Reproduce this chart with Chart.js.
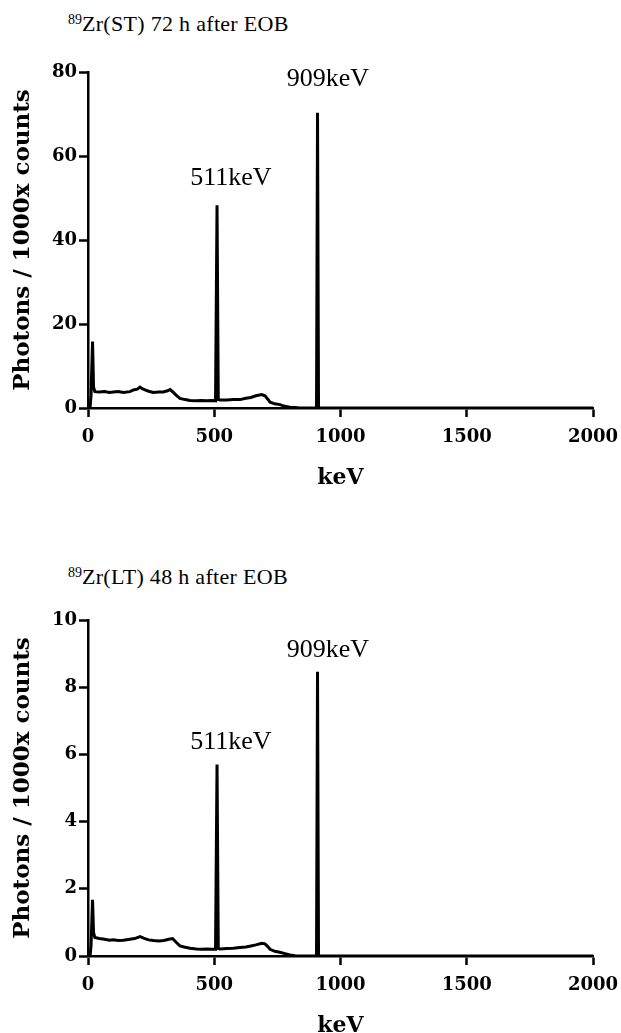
<!DOCTYPE html>
<html>
<head>
<meta charset="utf-8">
<title>89Zr spectra</title>
<script src="https://cdn.jsdelivr.net/npm/chart.js@4.4.0/dist/chart.umd.min.js"></script>
<style>
	body { margin: 0; width: 621px; height: 1033px; overflow: hidden; position: relative; background: #fff; }
	.ttl { position: absolute; left: 68px; font-family: "Liberation Serif", serif; font-size: 22px; letter-spacing: 0.3px; line-height: 24px; color: #000; white-space: nowrap; }
	.ttl sup { font-size: 14px; line-height: 0; vertical-align: 7px; letter-spacing: 0; }
	.box { position: absolute; left: 0; width: 621px; height: 500px; }
</style>
</head>
<body>
	<div class="ttl" style="top:12px"><sup>89</sup>Zr(ST) 72 h after EOB</div>
	<div class="box" style="top:0px"><canvas id="chartST"></canvas></div>

	<div class="ttl" style="top:565px"><sup>89</sup>Zr(LT) 48 h after EOB</div>
	<div class="box" style="top:548px"><canvas id="chartLT"></canvas></div>

	<script type="text/javascript">
		// tick labels
		var xTicks = [0, 500, 1000, 1500, 2000];
		var yTicksST = [0, 20, 40, 60, 80];
		var yTicksLT = [0, 2, 4, 6, 8, 10];

		// spectrum 89Zr(ST), 72 h after EOB (keV / photons per 1000x counts)
		var energyST = [8, 12, 18, 22, 27, 45, 65, 85, 100, 120, 140, 166, 180, 195, 206, 215, 226, 240, 259, 280, 298, 315, 325, 338, 350, 364, 385, 404, 430, 450, 470, 490, 505, 511, 516, 523, 550, 575, 602, 625, 645, 665, 688, 701, 712, 721, 740, 760, 780, 800, 820, 840, 905, 909, 913, 2000];
		var countsST = [0, 3, 15.8, 5, 3.9, 3.8, 3.9, 3.7, 3.8, 3.9, 3.7, 3.9, 4.3, 4.5, 5.0, 4.6, 4.3, 4.0, 3.7, 3.8, 3.8, 4.1, 4.4, 3.7, 3.0, 2.3, 2.0, 1.8, 1.7, 1.8, 1.7, 1.8, 1.7, 48.3, 2.0, 1.9, 1.9, 2.0, 2.0, 2.3, 2.5, 2.9, 3.2, 2.9, 2.1, 1.4, 1.0, 0.8, 0.4, 0.2, 0.1, 0, 0, 70.3, 0, 0];

		// spectrum 89Zr(LT), 48 h after EOB
		var energyLT = [8, 12, 18, 22, 27, 45, 65, 85, 100, 120, 140, 166, 185, 206, 220, 240, 259, 280, 300, 320, 335, 350, 364, 385, 404, 430, 450, 470, 490, 505, 511, 516, 523, 550, 575, 602, 625, 645, 665, 688, 701, 712, 721, 740, 760, 780, 800, 820, 840, 905, 909, 913, 2000];
		var countsLT = [0, 0.3, 1.67, 0.7, 0.55, 0.52, 0.5, 0.47, 0.48, 0.46, 0.47, 0.5, 0.52, 0.58, 0.53, 0.48, 0.46, 0.45, 0.46, 0.5, 0.52, 0.4, 0.3, 0.26, 0.23, 0.21, 0.2, 0.21, 0.2, 0.2, 5.7, 0.22, 0.21, 0.22, 0.23, 0.25, 0.27, 0.3, 0.33, 0.38, 0.36, 0.28, 0.2, 0.14, 0.11, 0.07, 0.03, 0.01, 0, 0, 8.46, 0, 0];

		// peak labels: text, keV, value where the label sits
		var peakText = ['511keV', '909keV'];
		var peakAtST = [[566, 54.8], [950, 78.3]];
		var peakAtLT = [[566, 6.35], [950, 9.1]];

		var tickFont = { family: '"DejaVu Serif", serif', size: 18, weight: 'bold' };
		var titleFont = { family: '"DejaVu Serif", serif', size: 22, weight: 'bold' };
		var yTitleFont = { family: '"DejaVu Serif", serif', size: 23, weight: 'bold' };

		Chart.register({
			id: 'peakLabels',
			afterDatasetsDraw: function (chart, args, opts) {
				var ctx = chart.ctx;
				ctx.save();
				ctx.fillStyle = '#000';
				ctx.font = '26px "Liberation Serif"';
				ctx.textAlign = 'center';
				ctx.textBaseline = 'middle';
				(opts.items || []).forEach(function (p, i) {
					var x = chart.scales.x.getPixelForValue(p[0]);
					var y = chart.scales.y.getPixelForValue(p[1]);
					ctx.fillText(peakText[i], x, y);
				});
				ctx.restore();
			}
		});

		function makeChart(id, xs, ys, yTicks, peaks) {
			var pts = xs.map(function (x, i) { return { x: x, y: ys[i] }; });
			return new Chart(document.getElementById(id).getContext('2d'), {
				type: 'line',
				data: {
					datasets: [{
						data: pts,
						borderColor: '#000',
						borderWidth: 3,
						pointRadius: 0,
						tension: 0,
						fill: false
					}]
				},
				options: {
					responsive: true,
					maintainAspectRatio: false,
					animation: false,
					layout: { padding: { top: 72, right: 28, left: 0, bottom: 0 } },
					plugins: {
						legend: { display: false },
						tooltip: { enabled: false },
						peakLabels: { items: peaks }
					},
					scales: {
						x: {
							type: 'linear',
							min: 0,
							max: xTicks[xTicks.length - 1],
							afterBuildTicks: function (s) { s.ticks = xTicks.map(function (v) { return { value: v }; }); },
							afterFit: function (s) { s.height = 92; s.paddingLeft = 0; s.paddingRight = 0; },
							grid: { drawOnChartArea: false, tickLength: 9, tickWidth: 2.5, tickColor: '#000' },
							border: { color: '#000', width: 2.5 },
							ticks: { color: '#000', font: tickFont, padding: 10, maxRotation: 0, callback: function (v) { return String(v); } },
							title: { display: true, text: 'keV', color: '#000', font: titleFont, padding: { top: 0, bottom: 9 } }
						},
						y: {
							min: 0,
							max: yTicks[yTicks.length - 1],
							afterBuildTicks: function (s) { s.ticks = yTicks.map(function (v) { return { value: v }; }); },
							afterFit: function (s) { s.width = 88; },
							grid: { drawOnChartArea: false, tickLength: 9, tickWidth: 2.5, tickColor: '#000' },
							border: { color: '#000', width: 2.5 },
							ticks: { color: '#000', font: tickFont, padding: 2, callback: function (v) { return String(v); } },
							title: { display: true, text: 'Photons / 1000x counts', color: '#000', font: yTitleFont, padding: { top: 9, bottom: 0 } }
						}
					}
				}
			});
		}

		makeChart('chartST', energyST, countsST, yTicksST, peakAtST);
		makeChart('chartLT', energyLT, countsLT, yTicksLT, peakAtLT);
	</script>
</body>
</html>
